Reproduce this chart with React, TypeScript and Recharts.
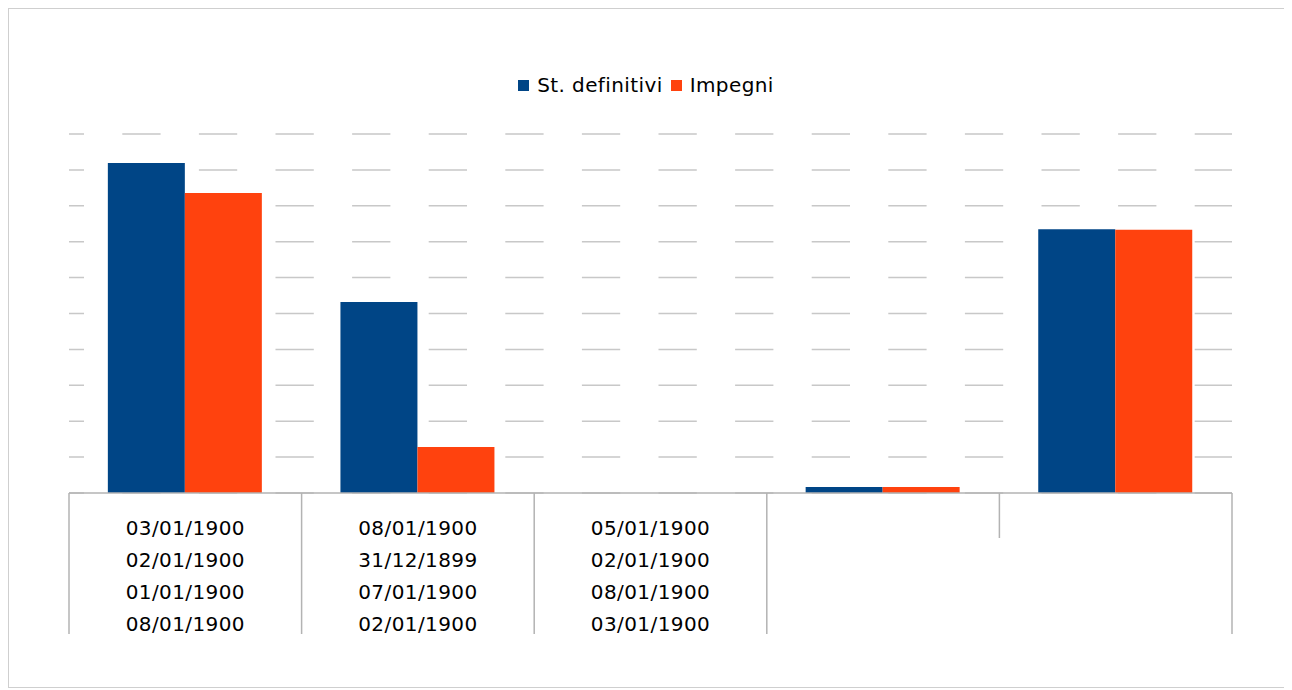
import React from "react";
import { BarChart, Bar, XAxis, YAxis, CartesianGrid, Legend } from "recharts";

const categoryLabels: string[][] = [
  ["03/01/1900", "02/01/1900", "01/01/1900", "08/01/1900"],
  ["08/01/1900", "31/12/1899", "07/01/1900", "02/01/1900"],
  ["05/01/1900", "02/01/1900", "08/01/1900", "03/01/1900"],
  [],
  [],
];
const stDefinitivi = [9.19, 5.32, 0, 0.17, 7.35];
const impegni = [8.36, 1.28, 0, 0.17, 7.33];
const yTicks = [0, 1, 2, 3, 4, 5, 6, 7, 8, 9, 10];

const data = categoryLabels.map((lines, i) => ({
  key: String(i),
  lines,
  st: stDefinitivi[i],
  imp: impegni[i],
}));

const BLUE = "#004586";
const ORANGE = "#ff420e";
const FONT = "'DejaVu Sans', sans-serif";
const W = 1278;
const H = 678;
const M = { top: 125, right: 55, left: 60, bottom: 0 };
const BAND = (W - M.left - M.right) / categoryLabels.length;
const SEP_LEN = [141, 141, 141, 141, 45];
const LAST_SEP_LEN = 141;

const Tick = (props: any) => {
  const { x, y, index } = props;
  const lines: string[] = categoryLabels[index] || [];
  const left = x - BAND / 2;
  const right = x + BAND / 2;
  return (
    <g>
      <line x1={left} y1={y} x2={left} y2={y + SEP_LEN[index]} stroke="#b3b3b3" strokeWidth={1.5} />
      {index === categoryLabels.length - 1 && (
        <line x1={right} y1={y} x2={right} y2={y + LAST_SEP_LEN} stroke="#b3b3b3" strokeWidth={1.5} />
      )}
      {lines.map((t, k) => (
        <text
          key={k}
          x={x}
          y={y + 42 + k * 32}
          textAnchor="middle"
          fontFamily={FONT}
          fontSize={20}
          letterSpacing={0.4}
          fill="#000"
        >
          {t}
        </text>
      ))}
    </g>
  );
};

const GridLine = (props: any) => {
  const { x1, x2, y1, y2 } = props;
  return (
    <line
      x1={x1}
      x2={x2}
      y1={y1}
      y2={y2}
      stroke="#c8c8c8"
      strokeWidth={1.5}
      strokeDasharray="38.3 38.3"
      strokeDashoffset={23.3}
    />
  );
};

const LegendContent = () => (
  <div
    style={{
      display: "flex",
      justifyContent: "center",
      alignItems: "center",
      fontFamily: FONT,
      fontSize: 20,
      letterSpacing: 0.4,
      paddingRight: 4,
    }}
  >
    <span style={{ display: "inline-block", width: 11, height: 11, background: BLUE, marginRight: 8 }} />
    <span style={{ marginRight: 8 }}>St. definitivi</span>
    <span style={{ display: "inline-block", width: 11, height: 11, background: ORANGE, marginRight: 8 }} />
    <span>Impegni</span>
  </div>
);

export default function App() {
  return (
    <div style={{ width: W, height: H, border: "1px solid #cfcfcf", background: "#fff" }}>
      <BarChart width={W} height={H} data={data} margin={M} barCategoryGap="16.7%" barGap={0}>
        <CartesianGrid vertical={false} horizontal={(p: any) => <GridLine {...p} />} />
        <YAxis hide domain={[0, 10]} ticks={yTicks} />
        <XAxis
          dataKey="key"
          height={194}
          tickLine={false}
          tickSize={0}
          tickMargin={0}
          axisLine={{ stroke: "#b3b3b3", strokeWidth: 1.5 }}
          tick={<Tick />}
          interval={0}
        />
        <Legend
          verticalAlign="middle"
          align="center"
          content={<LegendContent />}
          wrapperStyle={{ top: 64, left: 0, width: W }}
        />
        <Bar dataKey="st" name="St. definitivi" fill={BLUE} isAnimationActive={false} />
        <Bar dataKey="imp" name="Impegni" fill={ORANGE} isAnimationActive={false} />
      </BarChart>
    </div>
  );
}
